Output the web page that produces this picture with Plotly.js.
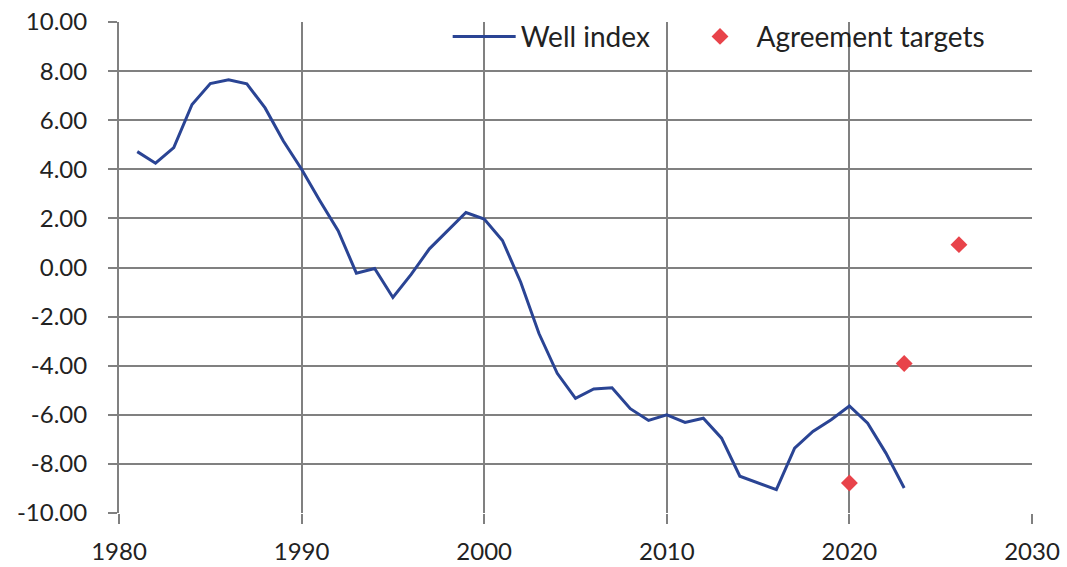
<!DOCTYPE html>
<html>
<head>
<meta charset="utf-8">
<script src="https://cdn.plot.ly/plotly-3.0.1.min.js"></script>
<style>html,body{margin:0;padding:0;background:#fff;}#chart{width:1067px;height:567px;}</style>
</head>
<body>
<div id="chart"></div>
<script>
const years = [1981,1982,1983,1984,1985,1986,1987,1988,1989,1990,1991,1992,1993,1994,1995,1996,1997,1998,1999,2000,2001,2002,2003,2004,2005,2006,2007,2008,2009,2010,2011,2012,2013,2014,2015,2016,2017,2018,2019,2020,2021,2022,2023];
const wellIndex = [4.72,4.25,4.88,6.64,7.49,7.65,7.48,6.50,5.15,4.00,2.72,1.50,-0.23,-0.04,-1.22,-0.28,0.76,1.50,2.24,1.97,1.10,-0.60,-2.69,-4.31,-5.33,-4.95,-4.90,-5.75,-6.23,-6.00,-6.31,-6.14,-6.95,-8.50,-8.77,-9.05,-7.36,-6.68,-6.20,-5.64,-6.34,-7.56,-8.98];
const targetYears = [2020,2023,2026];
const targetValues = [-8.78,-3.91,0.93];
const yTicks = [-10,-8,-6,-4,-2,0,2,4,6,8,10];
const xTicks = [1980,1990,2000,2010,2020,2030];

const tickFont = {family: 'Lato, "Open Sans", sans-serif', size: 24, color: '#222'};
const legendFont = {family: 'Lato, "Open Sans", sans-serif', size: 28, color: '#222'};
const grid = '#808080';
const data = [
  {x: years, y: wellIndex, type: 'scatter', mode: 'lines', name: 'Well index\u00a0\u00a0\u00a0\u00a0',
   line: {color: '#2a4494', width: 3}},
  {x: targetYears, y: targetValues, type: 'scatter', mode: 'markers', name: 'Agreement targets',
   marker: {symbol: 'diamond', color: '#e8434a', size: 13}}
];
const layout = {
  width: 1067, height: 567,
  margin: {l: 119, r: 35, t: 20, b: 54},
  paper_bgcolor: '#fff', plot_bgcolor: '#fff',
  font: tickFont,
  showlegend: true,
  legend: {orientation: 'h', x: 0.36, y: 1.021, xanchor: 'left', yanchor: 'top',
           bgcolor: 'rgba(0,0,0,0)', font: legendFont, itemwidth: 63, tracegroupgap: 0},
  xaxis: {range: [1980, 2030], tickvals: xTicks, ticktext: xTicks.map(String),
          showgrid: true, gridcolor: grid, gridwidth: 2,
          zeroline: false, showline: false,
          ticks: 'outside', ticklen: 10, tickcolor: grid, tickwidth: 2,
          ticklabelstandoff: 7,
          tickfont: tickFont, fixedrange: true},
  yaxis: {range: [-10, 10], tickvals: yTicks, ticktext: yTicks.map(v => v.toFixed(2)),
          showgrid: true, gridcolor: grid, gridwidth: 2,
          zeroline: false, showline: true, linecolor: grid, linewidth: 2,
          ticks: 'outside', ticklen: 9, tickcolor: grid, tickwidth: 2,
          ticklabelstandoff: 16,
          tickfont: tickFont, fixedrange: true}
};
Plotly.newPlot('chart', data, layout, {displayModeBar: false, staticPlot: true});
</script>
</body>
</html>
